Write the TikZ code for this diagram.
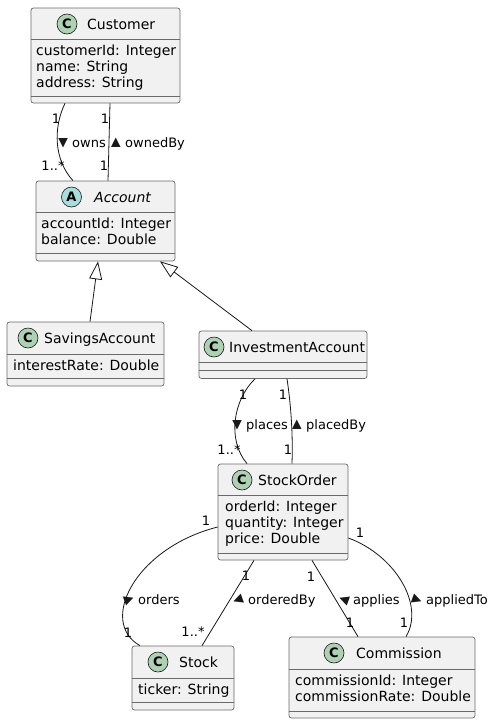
\documentclass[tikz,border=0pt]{standalone}
\usepackage{fontspec}
\setmainfont{DejaVu Sans}
\usetikzlibrary{calc,arrows.meta}
\definecolor{boxfill}{HTML}{F1F1F1}
\definecolor{ink}{HTML}{181818}
\definecolor{boxline}{HTML}{6A6A6A}
\definecolor{spotC}{HTML}{ADD1B2}
\definecolor{spotA}{HTML}{A9DCDF}
\tikzset{
  classbox/.style={rectangle, draw=boxline, fill=boxfill, line width=0.7pt, rounded corners=2.5pt, inner sep=0pt},
  sepline/.style={draw=boxline, line width=0.7pt},
  conn/.style={draw=ink, line width=0.8pt},
  spot/.style={circle, draw=ink, line width=0.6pt, minimum size=20pt, inner sep=0pt, font=\fontsize{13}{13}\selectfont\bfseries},
  cname/.style={anchor=base west, inner sep=0pt, font=\fontsize{14}{16}\selectfont},
  attr/.style={anchor=base west, inner sep=0pt, font=\fontsize{14}{16}\selectfont},
  lbl/.style={anchor=base west, inner sep=0pt, font=\fontsize{13}{15}\selectfont},
  mult/.style={anchor=base, inner sep=0pt, font=\fontsize{13}{15}\selectfont},
  dirmark/.style={inner sep=0pt, text=ink, font=\fontsize{12.5}{12.5}\selectfont},
  gen/.style={conn, -{Triangle[open, length=18pt, width=13pt]}},
}
\newcommand\umlclass[7]{%
  \node[classbox, minimum width={#4-#2}, minimum height={#5-#3}] (#1) at ({(#2+#4)/2},{(#3+#5)/2}) {};
  \draw[sepline] (#1.west |- 0,#6) -- (#1.east |- 0,#6);
  \draw[sepline] (#1.west |- 0,#7) -- (#1.east |- 0,#7);
}
\begin{document}
\begin{tikzpicture}[x=1pt,y=-1pt]
\path[use as bounding box, fill=white] (0,0) rectangle (495,724);

% ---------- classes ----------
\umlclass{cust}{31}{8}{180}{103}{39}{96}
\node[spot, fill=spotC] (custS) at (67,24) {C};
\node[cname] (custN) at (87,29) {Customer};
\node[attr] (custA1) at (36,55) {customerId: Integer};
\node[attr] (custA2) at (36,71.3) {name: String};
\node[attr] (custA3) at (36,87.6) {address: String};

\umlclass{acc}{36}{181}{175}{261}{212}{253}
\node[spot, fill=spotA] (accS) at (71.5,197) {A};
\node[cname, font=\fontsize{14}{16}\selectfont\itshape] (accN) at (94,202) {Account};
\node[attr] (accA1) at (41,228) {accountId: Integer};
\node[attr] (accA2) at (41,244.3) {balance: Double};

\umlclass{sav}{7}{322}{164}{386}{354}{378.5}
\node[spot, fill=spotC] (savS) at (28,338) {C};
\node[cname] (savN) at (44,343) {SavingsAccount};
\node[attr] (savA1) at (13,370) {interestRate: Double};

\umlclass{inv}{199}{331}{367}{378.5}{362.5}{370.5}
\node[spot, fill=spotC] (invS) at (214,347) {C};
\node[cname] (invN) at (229,352) {InvestmentAccount};

\umlclass{so}{218}{464}{348}{560}{495}{553}
\node[spot, fill=spotC] (soS) at (242,480) {C};
\node[cname] (soN) at (258,485) {StockOrder};
\node[attr] (soA1) at (225,511) {orderId: Integer};
\node[attr] (soA2) at (225,527.3) {quantity: Integer};
\node[attr] (soA3) at (225,543.6) {price: Double};

\umlclass{stock}{132}{646}{234}{710}{678}{702}
\node[spot, fill=spotC] (stockS) at (158,662) {C};
\node[cname] (stockN) at (179,667) {Stock};
\node[attr] (stockA1) at (138,694.5) {ticker: String};

\umlclass{comm}{289}{637}{475}{718}{669}{711}
\node[spot, fill=spotC] (commS) at (334,653) {C};
\node[cname] (commN) at (356,658) {Commission};
\node[attr] (commA1) at (295,685) {commissionId: Integer};
\node[attr] (commA2) at (295,701.3) {commissionRate: Double};

% ---------- connectors ----------
% Customer -- Account
\draw[conn] (cust.south -| 65,0) .. controls (53,128) and (54,160) .. (acc.north -| 73,0);
\node[mult] (m1) at (56,123.5) {1};
\node[mult] (m2) at (53,170.5) {1..*};
\node[dirmark, rotate=-90] (d1) at (63,143) {▶};
\node[lbl] (l1) at (72,147.5) {owns};

\draw[conn] (cust.south -| 110,0) -- (acc.north -| 108,0);
\node[mult] (m3) at (105,123.5) {1};
\node[mult] (m4) at (104,170.5) {1};
\node[dirmark, rotate=90] (d2) at (116,143) {▶};
\node[lbl] (l2) at (125,147.5) {ownedBy};

% generalizations
\draw[gen] (sav.north -| 90,0) -- (acc.south -| 98,0);
\draw[gen] (inv.north -| 252,0) -- (acc.south -| 160,0);

% InvestmentAccount -- StockOrder
\draw[conn] (inv.south -| 255,0) .. controls (233,400) and (227,440) .. (so.north -| 247,0);
\node[mult] (m5) at (243,399.5) {1};
\node[mult] (m6) at (229,454.5) {1..*};
\node[dirmark, rotate=-90] (d3) at (237,425) {▶};
\node[lbl] (l3) at (246,429.5) {places};

\draw[conn] (inv.south -| 287,0) .. controls (291,405) and (293,435) .. (so.north -| 292,0);
\node[mult] (m7) at (283,399.5) {1};
\node[mult] (m8) at (288,454.5) {1};
\node[dirmark, rotate=90] (d4) at (297,425) {▶};
\node[lbl] (l4) at (306,429.5) {placedBy};

% StockOrder -- Stock
\draw[conn] (so.west |- 0,527) .. controls (135,548) and (98,622) .. (stock.north -| 140,0);
\node[mult] (m9) at (206,525.5) {1};
\node[mult] (m10) at (128,637.5) {1};
\node[dirmark, rotate=20] (d5) at (129,600) {▶};
\node[lbl] (l5) at (138,604.5) {orders};

\draw[conn] (so.south -| 254,0) -- (stock.north -| 202,0);
\node[mult] (m11) at (246,580) {1};
\node[mult] (m12) at (193,636) {1..*};
\node[dirmark, rotate=200] (d6) at (238,600) {▶};
\node[lbl] (l6) at (248,604.5) {orderedBy};

% StockOrder -- Commission
\draw[conn] (so.south -| 312,0) -- (comm.north -| 358,0);
\node[mult] (m13) at (311,581.5) {1};
\node[mult] (m14) at (350,627) {1};
\node[dirmark, rotate=160] (d7) at (344,600) {▶};
\node[lbl] (l7) at (353,604.5) {applies};

\draw[conn] (so.east |- 0,538) .. controls (395,555) and (425,605) .. (comm.north -| 406,0);
\node[mult] (m15) at (360,537.5) {1};
\node[mult] (m16) at (404,627) {1};
\node[dirmark, rotate=-20] (d8) at (417,600) {▶};
\node[lbl] (l8) at (426,604.5) {appliedTo};
\end{tikzpicture}
\end{document}
